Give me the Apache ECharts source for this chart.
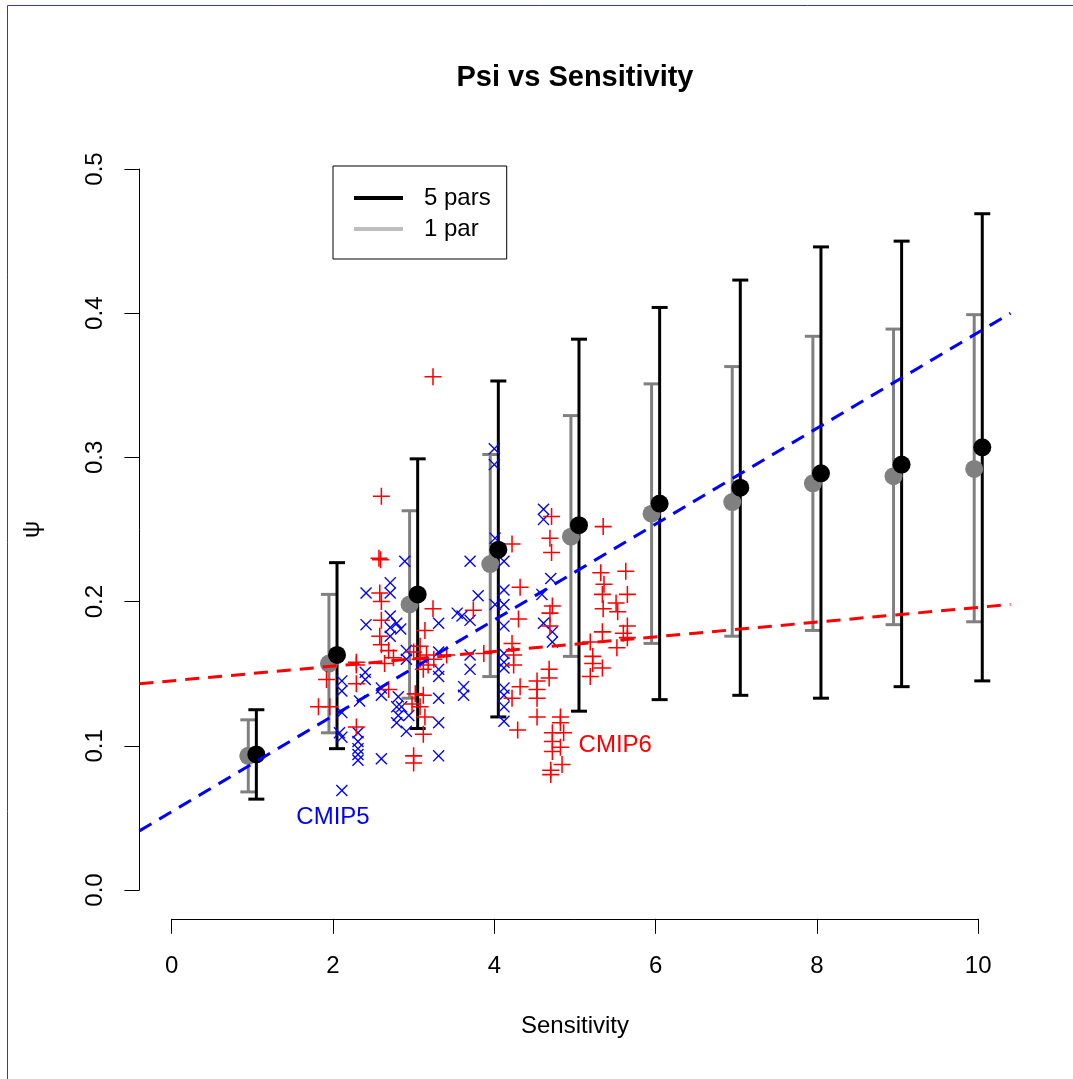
<!DOCTYPE html>
<html>
<head>
<meta charset="utf-8">
<title>Psi vs Sensitivity</title>
<script src="https://cdn.jsdelivr.net/npm/echarts@6/dist/echarts.min.js"></script>
<style>
  html, body { margin: 0; padding: 0; background: #fff; }
  #chart { width: 1073px; height: 1079px; }
</style>
</head>
<body>
<div id="chart"></div>
<script>
// sensitivity bins (error bars)
var binSens = [1, 2, 3, 4, 5, 6, 7, 8, 9, 10];
// 5 parameter fit
var fiveMid = [0.094, 0.163, 0.205, 0.236, 0.253, 0.268, 0.279, 0.289, 0.295, 0.307];
var fiveLo  = [0.063, 0.098, 0.112, 0.120, 0.124, 0.132, 0.135, 0.133, 0.141, 0.145];
var fiveHi  = [0.125, 0.227, 0.299, 0.353, 0.382, 0.404, 0.423, 0.446, 0.450, 0.469];
// 1 parameter fit
var oneMid = [0.093, 0.157, 0.198, 0.226, 0.245, 0.261, 0.269, 0.282, 0.287, 0.292];
var oneLo  = [0.068, 0.109, 0.133, 0.148, 0.162, 0.171, 0.176, 0.180, 0.184, 0.186];
var oneHi  = [0.118, 0.205, 0.263, 0.302, 0.329, 0.351, 0.363, 0.384, 0.389, 0.399];

// CMIP5 models (blue x)
var cmip5Sens = [2.89, 2.71, 4.00, 4.00, 4.01, 3.70, 4.12, 4.61, 4.61, 4.70,
  3.80, 4.12, 4.01, 4.12, 4.59, 3.70, 3.60, 4.12, 4.61, 4.72,
  4.72, 3.70, 3.70, 4.12, 4.12, 4.12, 3.62, 3.62, 4.12, 4.12,
  4.12, 4.12, 2.41, 2.71, 2.41, 3.31, 2.71, 2.79, 2.71, 2.84,
  2.71, 2.91, 2.91, 3.31, 3.31, 3.31, 2.40, 2.40, 2.11, 2.11,
  2.11, 2.33, 2.60, 2.60, 2.81, 2.79, 2.81, 2.79, 2.85, 2.91,
  2.94, 3.31, 3.31, 3.31, 2.08, 2.31, 2.31, 2.31, 2.31, 2.31,
  2.60, 2.11, 3.54, 2.11];
var cmip5Psi = [0.228, 0.213, 0.306, 0.295, 0.244, 0.228, 0.228, 0.264, 0.257, 0.216,
  0.204, 0.208, 0.198, 0.198, 0.205, 0.187, 0.190, 0.183, 0.185, 0.179,
  0.172, 0.163, 0.153, 0.164, 0.158, 0.154, 0.141, 0.135, 0.140, 0.135,
  0.127, 0.117, 0.206, 0.206, 0.184, 0.185, 0.190, 0.185, 0.182, 0.181,
  0.176, 0.166, 0.160, 0.165, 0.153, 0.148, 0.151, 0.146, 0.145, 0.138,
  0.123, 0.131, 0.140, 0.135, 0.134, 0.127, 0.121, 0.116, 0.127, 0.110,
  0.121, 0.133, 0.116, 0.093, 0.109, 0.109, 0.103, 0.098, 0.094, 0.090,
  0.091, 0.069, 0.192, 0.106];

// CMIP6 models (red +)
var cmip6Sens = [3.24, 2.60, 2.57, 2.59, 4.22, 4.71, 4.69, 4.71, 5.35, 5.32,
  5.63, 4.32, 3.74, 5.36, 5.34, 5.65, 5.51, 5.35, 5.53, 4.72,
  4.69, 4.30, 4.69, 5.65, 5.60, 5.34, 5.65, 5.19, 5.52, 4.22,
  3.87, 4.24, 4.24, 5.22, 5.22, 5.34, 5.19, 4.68, 4.68, 4.53,
  4.32, 4.53, 4.53, 4.22, 4.53, 4.29, 4.82, 4.82, 4.72, 4.86,
  4.72, 4.82, 4.72, 4.84, 4.70, 4.70, 2.58, 2.60, 3.24, 2.60,
  3.14, 2.58, 2.69, 2.60, 2.75, 2.64, 3.08, 3.16, 3.08, 3.12,
  3.25, 3.18, 3.41, 2.29, 1.92, 2.29, 1.82, 1.96, 2.69, 2.98,
  3.02, 3.12, 3.08, 3.14, 3.12, 2.29, 3.00, 3.00, 3.00, 2.29];
var cmip6Psi = [0.356, 0.273, 0.230, 0.229, 0.240, 0.259, 0.244, 0.234, 0.252, 0.220,
  0.221, 0.210, 0.194, 0.212, 0.205, 0.205, 0.199, 0.195, 0.193, 0.197,
  0.192, 0.188, 0.183, 0.183, 0.178, 0.179, 0.175, 0.172, 0.168, 0.171,
  0.164, 0.163, 0.156, 0.162, 0.157, 0.154, 0.148, 0.153, 0.147, 0.145,
  0.141, 0.139, 0.133, 0.133, 0.120, 0.111, 0.120, 0.116, 0.109, 0.109,
  0.103, 0.099, 0.096, 0.087, 0.083, 0.080, 0.206, 0.200, 0.195, 0.187,
  0.180, 0.176, 0.166, 0.170, 0.161, 0.157, 0.169, 0.163, 0.160, 0.153,
  0.160, 0.156, 0.163, 0.158, 0.146, 0.143, 0.127, 0.127, 0.139, 0.129,
  0.136, 0.135, 0.127, 0.120, 0.108, 0.113, 0.093, 0.088, 0.165, 0.156];

// regression lines (ends at plot edges)
var cmip5Fit = [[-0.4, 0.041], [10.4, 0.400]];
var cmip6Fit = [[-0.4, 0.143], [10.4, 0.198]];

var fontFam = '"Liberation Sans", Arial, Helvetica, sans-serif';
var plusPath = 'path://M45.5,0H54.5V45.5H100V54.5H54.5V100H45.5V54.5H0V45.5H45.5Z';
var crossPath = 'path://M0,8L8,0L50,42L92,0L100,8L58,50L100,92L92,100L50,58L8,100L0,92L42,50Z';

function zip(a, b) {
  var out = [];
  for (var i = 0; i < a.length; i++) out.push([a[i], b[i]]);
  return out;
}

function errorBars(color) {
  return function (params, api) {
    var x = api.value(0);
    var top = api.coord([x, api.value(2)]);
    var bot = api.coord([x, api.value(1)]);
    var hw = 8;
    var st = { stroke: color, lineWidth: 3, fill: null };
    return {
      type: 'group',
      children: [
        { type: 'line', shape: { x1: top[0], y1: top[1], x2: bot[0], y2: bot[1] }, style: st },
        { type: 'line', shape: { x1: top[0] - hw, y1: top[1], x2: top[0] + hw, y2: top[1] }, style: st },
        { type: 'line', shape: { x1: bot[0] - hw, y1: bot[1], x2: bot[0] + hw, y2: bot[1] }, style: st }
      ]
    };
  };
}

var oneBars = [], fiveBars = [], oneDots = [], fiveDots = [];
for (var i = 0; i < binSens.length; i++) {
  oneBars.push([binSens[i] - 0.05, oneLo[i], oneHi[i]]);
  fiveBars.push([binSens[i] + 0.05, fiveLo[i], fiveHi[i]]);
  oneDots.push([binSens[i] - 0.05, oneMid[i]]);
  fiveDots.push([binSens[i] + 0.05, fiveMid[i]]);
}

var chart = echarts.init(document.getElementById('chart'), null, { renderer: 'canvas' });

var option = {
  animation: false,
  backgroundColor: '#fff',
  textStyle: { fontFamily: fontFam },
  graphic: [
    { type: 'rect', shape: { x: 7.5, y: 5.5, width: 1200, height: 1200 },
      style: { fill: null, stroke: '#3434d4', lineWidth: 1 }, silent: true },
    { type: 'text', x: 575, y: 78,
      style: { text: 'Psi vs Sensitivity', fontSize: 29, fontWeight: 'bold', fontFamily: fontFam,
        fill: '#000', align: 'center', verticalAlign: 'middle' } }
  ],
  legend: {
    orient: 'vertical',
    left: 333, top: 166,
    padding: [20, 16, 18, 21],
    borderColor: '#000', borderWidth: 1, borderRadius: 0,
    backgroundColor: '#fff',
    selectedMode: false,
    icon: 'rect',
    itemWidth: 49, itemHeight: 4, itemGap: 7,
    textStyle: { fontSize: 24, color: '#000', fontFamily: fontFam, padding: [0, 0, 0, 16] },
    data: [
      { name: '5 pars', itemStyle: { color: '#000' } },
      { name: '1 par', itemStyle: { color: '#bebebe' } }
    ]
  },
  grid: [
    { left: 139.4, right: 62.5, top: 140.2, bottom: 160.2 },
    { left: 171.7, right: 94.8, top: 140.2, bottom: 160.2 },
    { left: 139.4, right: 62.5, top: 169, bottom: 189 }
  ],
  xAxis: [
    { gridIndex: 0, type: 'value', min: -0.4, max: 10.4, show: false },
    { gridIndex: 1, type: 'value', min: 0, max: 10, interval: 2,
      name: 'Sensitivity', nameLocation: 'middle', nameGap: 96,
      nameTextStyle: { fontSize: 24, color: '#000', fontFamily: fontFam },
      axisLine: { show: true, lineStyle: { color: '#000', width: 1 } },
      axisTick: { show: true, inside: false, length: 15, lineStyle: { color: '#000', width: 1 } },
      axisLabel: { fontSize: 24, color: '#000', margin: 36, fontFamily: fontFam },
      splitLine: { show: false } },
    { gridIndex: 2, type: 'value', min: 0, max: 1, show: false }
  ],
  yAxis: [
    { gridIndex: 0, type: 'value', min: -0.02, max: 0.52, show: false },
    { gridIndex: 1, type: 'value', min: 0, max: 1, show: false },
    { gridIndex: 2, type: 'value', min: 0, max: 0.5, interval: 0.1,
      name: 'ψ', nameLocation: 'middle', nameGap: 95, nameRotate: 90,
      nameTextStyle: { fontSize: 24, color: '#000', fontFamily: fontFam },
      axisLine: { show: true, lineStyle: { color: '#000', width: 1 } },
      axisTick: { show: true, inside: false, length: 15, lineStyle: { color: '#000', width: 1 } },
      axisLabel: { fontSize: 24, color: '#000', margin: 32, rotate: 90, fontFamily: fontFam,
        formatter: function (v) { return v.toFixed(1); } },
      splitLine: { show: false } }
  ],
  series: [
    { name: '1 par', type: 'custom', xAxisIndex: 0, yAxisIndex: 0,
      renderItem: errorBars('#808080'), encode: { x: 0, y: [1, 2] }, data: oneBars, clip: false },
    { name: '1 par dots', type: 'scatter', xAxisIndex: 0, yAxisIndex: 0,
      symbol: 'circle', symbolSize: 18, itemStyle: { color: '#808080', opacity: 1 }, data: oneDots },
    { name: 'CMIP5', type: 'scatter', xAxisIndex: 0, yAxisIndex: 0,
      symbol: crossPath, symbolSize: 12, itemStyle: { color: '#0000ff', opacity: 1 },
      data: zip(cmip5Sens, cmip5Psi) },
    { name: 'CMIP6', type: 'scatter', xAxisIndex: 0, yAxisIndex: 0,
      symbol: plusPath, symbolSize: 17, itemStyle: { color: '#ff0000', opacity: 1 },
      data: zip(cmip6Sens, cmip6Psi) },
    { name: '5 pars', type: 'custom', xAxisIndex: 0, yAxisIndex: 0,
      renderItem: errorBars('#000000'), encode: { x: 0, y: [1, 2] }, data: fiveBars, clip: false },
    { name: '5 pars dots', type: 'scatter', xAxisIndex: 0, yAxisIndex: 0,
      symbol: 'circle', symbolSize: 18, itemStyle: { color: '#000', opacity: 1 }, data: fiveDots },
    { name: 'CMIP5 fit', type: 'line', xAxisIndex: 0, yAxisIndex: 0, symbol: 'none',
      lineStyle: { color: '#0000ff', width: 3, type: [14, 9] }, data: cmip5Fit },
    { name: 'CMIP6 fit', type: 'line', xAxisIndex: 0, yAxisIndex: 0, symbol: 'none',
      lineStyle: { color: '#ff0000', width: 3, type: [14, 9] }, data: cmip6Fit },
    { name: 'labels', type: 'scatter', xAxisIndex: 0, yAxisIndex: 0, symbolSize: 0,
      itemStyle: { opacity: 1 },
      label: { show: true, position: 'inside', fontSize: 24, fontFamily: fontFam, opacity: 1,
        formatter: function (p) { return p.data.text; } },
      data: [
        { value: [2.0, 0.05], text: 'CMIP5', label: { color: '#0000ff' } },
        { value: [5.5, 0.1], text: 'CMIP6', label: { color: '#ff0000' } }
      ] }
  ]
};

chart.setOption(option);
</script>
</body>
</html>
